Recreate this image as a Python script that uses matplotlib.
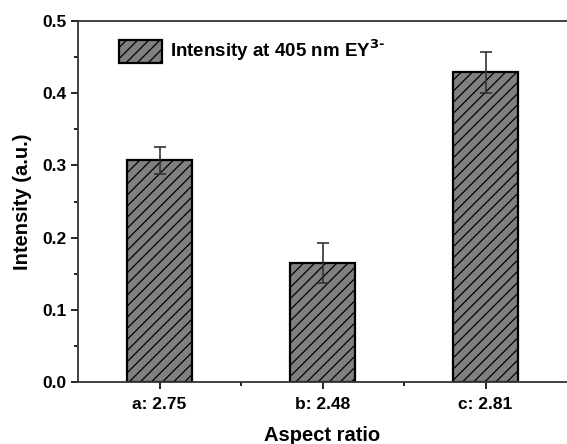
import numpy as np
import matplotlib
matplotlib.use('Agg')
import matplotlib.pyplot as plt
from matplotlib.ticker import MultipleLocator

# data
categories = ['a: 2.75', 'b: 2.48', 'c: 2.81']
intensity = [0.307, 0.165, 0.429]
errors = [0.019, 0.028, 0.028]

plt.rcParams['font.family'] = ['Liberation Sans', 'DejaVu Sans']
plt.rcParams['font.weight'] = 'bold'
plt.rcParams['hatch.linewidth'] = 0.9

fig = plt.figure(figsize=(5.67, 4.44), dpi=100)
ax = fig.add_axes([0.1376, 0.1396, 0.8624, 0.813])

x = np.arange(1, len(categories) + 1)
ax.bar(x, intensity, width=0.4, color='#808080', edgecolor='black',
       linewidth=1.6, hatch='///', label='Intensity at 405 nm EY$^{\\mathbf{3\\text{-}}}$', zorder=2)
ax.errorbar(x, intensity, yerr=errors, fmt='none', ecolor='#333333',
            elinewidth=1.2, capsize=4, capthick=1.2, zorder=3)

ax.set_xlim(0.5, 3.5)
ax.set_ylim(0, 0.5)
ax.set_xticks(x)
ax.set_xticklabels(categories)
ax.set_xticks([1.5, 2.5], minor=True)
ax.yaxis.set_major_locator(MultipleLocator(0.1))
ax.yaxis.set_minor_locator(MultipleLocator(0.05))
ax.yaxis.set_major_formatter(plt.FormatStrFormatter('%.1f'))

ax.tick_params(which='major', direction='out', length=5, width=1.2, labelsize=12.5, top=False, right=False)
ax.tick_params(axis='x', which='major', pad=6)
ax.tick_params(which='minor', direction='out', length=3, width=1.2, top=False, right=False)
for s in ['left', 'bottom', 'top']:
    ax.spines[s].set_linewidth(1.3)
    ax.spines[s].set_color('#333333')
ax.spines['right'].set_visible(False)

ax.set_xlabel('Aspect ratio', fontsize=14.5, fontweight='bold', labelpad=10)
ax.set_ylabel('Intensity (a.u.)', fontsize=14.5, fontweight='bold', labelpad=7)

ax.legend(loc='upper left', bbox_to_anchor=(0.05, 1.0), frameon=False,
          fontsize=13.5, handlelength=2.3, handleheight=1.5, handletextpad=0.4)

fig.savefig('out.png', dpi=100)
